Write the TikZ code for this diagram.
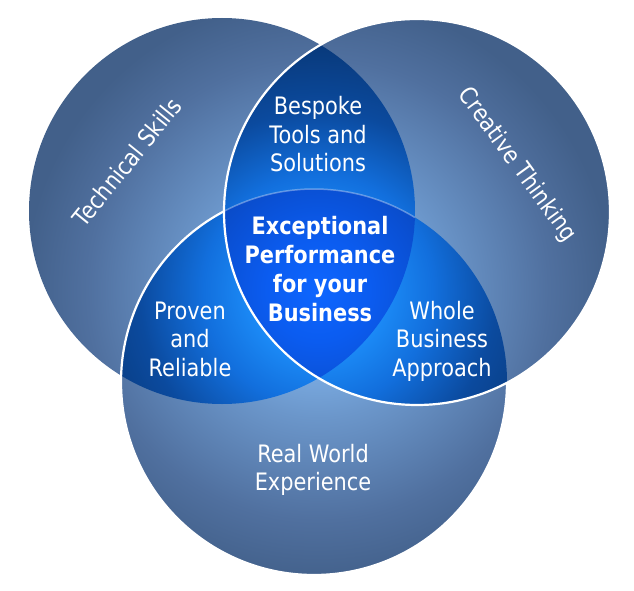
\documentclass[tikz,border=0pt]{standalone}
\usepackage{fontspec}
\setmainfont{DejaVu Sans}[FakeStretch=0.87]
\definecolor{oA}{HTML}{95CBFF}
\definecolor{oB}{HTML}{84B8F0}
\definecolor{oC}{HTML}{6B96CA}
\definecolor{oD}{HTML}{50709F}
\definecolor{oE}{HTML}{42608A}
\definecolor{oF}{HTML}{3D5A82}
\definecolor{lA}{HTML}{2A9EFF}
\definecolor{lB}{HTML}{1C8CF8}
\definecolor{lC}{HTML}{126FDD}
\definecolor{lD}{HTML}{0B4A9E}
\definecolor{lE}{HTML}{093A7C}
\definecolor{lF}{HTML}{083470}
\definecolor{cA}{HTML}{0E66FF}
\definecolor{cB}{HTML}{0B5CF0}
\definecolor{cC}{HTML}{0A50D4}
\definecolor{cD}{HTML}{0A44B4}
\definecolor{cE}{HTML}{083A9A}
\pgfdeclareradialshading{outerglow}{\pgfpoint{0bp}{0bp}}{color(0bp)=(oA); color(4bp)=(oB); color(10bp)=(oC); color(18bp)=(oD); color(23bp)=(oE); color(50bp)=(oF)}
\pgfdeclareradialshading{lensglow}{\pgfpoint{0bp}{0bp}}{color(0bp)=(lA); color(5bp)=(lB); color(9bp)=(lC); color(14bp)=(lD); color(19bp)=(lE); color(50bp)=(lF)}
\pgfdeclareradialshading{coreglow}{\pgfpoint{0bp}{0bp}}{color(0bp)=(cA); color(4bp)=(cB); color(8bp)=(cC); color(12bp)=(cD); color(50bp)=(cE)}
\begin{document}
\begin{tikzpicture}[x=1pt,y=-1pt,
  lbl/.style={text=white, align=center, font=\fontsize{24}{28.5}\selectfont},
  core/.style={text=white, align=center, font=\bfseries\fontsize{24}{29}\selectfont},
  whiteline/.style={white, line width=2.2pt}]
\useasboundingbox (0,0) rectangle (634,591);
\coordinate (C1) at (222,211);
\coordinate (C2) at (417,212);
\coordinate (C3) at (314,382);
\coordinate (G) at (318,290);
\def\R{193}
% single circles
\foreach \c in {C1,C2,C3}{
  \begin{scope}
    \clip (\c) circle (\R);
    \shade[shading=outerglow] (G) circle (320);
  \end{scope}
}
% pairwise lenses
\begin{scope}
  \clip (C1) circle (\R); \clip (C2) circle (\R);
  \shade[shading=lensglow] (G) circle (320);
\end{scope}
\begin{scope}
  \clip (C1) circle (\R); \clip (C3) circle (\R);
  \shade[shading=lensglow] (G) circle (320);
\end{scope}
\begin{scope}
  \clip (C2) circle (\R); \clip (C3) circle (\R);
  \shade[shading=lensglow] (G) circle (320);
\end{scope}
% centre
\begin{scope}
  \clip (C1) circle (\R); \clip (C2) circle (\R); \clip (C3) circle (\R);
  \shade[shading=coreglow] (G) circle (320);
\end{scope}
% outlines
\draw[whiteline] (C2) circle (\R);
\draw[whiteline] ([shift={(0.2:\R)}]C3) arc[start angle=0.2, end angle=242.2, radius=\R];
\draw[white, opacity=0.35, line width=1.5pt] ([shift={(242.2:\R)}]C3) arc[start angle=242.2, end angle=301.5, radius=\R];
% labels
\node[lbl] (bespoke) at (318,134.5) {Bespoke\\Tools and\\Solutions};
\node[core] (centre) at (320,269.5) {Exceptional\\Performance\\for your\\Business};
\node[lbl] (proven) at (190,339) {Proven\\and\\Reliable};
\node[lbl] (whole) at (442,341) {Whole\\Business\\Approach};
\node[lbl] (real) at (313,470) {Real World\\Experience};
\node[lbl, rotate=51] (tech) at (127,162) {Technical Skills};
\node[lbl, rotate=-54] (creative) at (517,165) {Creative Thinking};
\end{tikzpicture}
\end{document}
